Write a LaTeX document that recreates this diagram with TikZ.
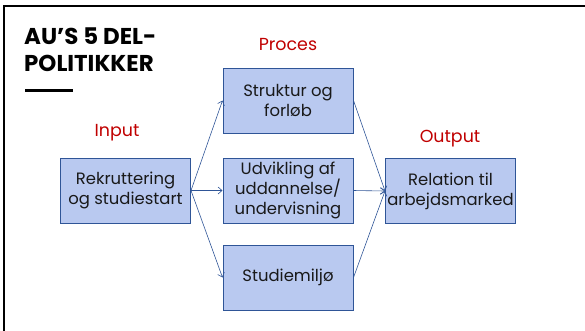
\documentclass[tikz,border=0pt]{standalone}
\usepackage{fontspec}
\setmainfont{Poppins}
\usetikzlibrary{arrows.meta}
\definecolor{boxfill}{RGB}{185,201,240}
\definecolor{boxline}{RGB}{47,85,151}
\definecolor{labred}{RGB}{192,0,0}
\tikzset{
  pbox/.style={draw=boxline, line width=1pt, fill=boxfill, minimum width=130bp, minimum height=65bp, inner sep=0pt, align=center, font=\fontsize{16.5}{20}\selectfont, text=black!90},
  plabel/.style={text=labred, font=\fontsize{17.5}{20}\selectfont, inner sep=0pt},
  conn/.style={draw=boxline, line width=0.6pt, -{Straight Barb[length=4bp,width=7bp]}}
}
\begin{document}
\begin{tikzpicture}[x=1bp,y=-1bp]
\useasboundingbox (0,0) rectangle (585,330);
% frame
\draw[line width=2.2bp, line cap=rect] (4,330) -- (4,6) -- (585,6);
% title
\node[anchor=north west, inner sep=0pt, align=left, font=\fontsize{23}{26.5}\selectfont\bfseries] (title) at (24,28) {AU’S 5 DEL-\\POLITIKKER};
\draw[line width=3bp] (25,90) -- (73,90);
% labels
\node[plabel] (lin) at (117,133) {Input};
\node[plabel] (lproc) at (288,44) {Proces};
\node[plabel] (lout) at (450,139) {Output};
% boxes
\node[pbox] (inp) at (125.5,190.5) {Rekruttering\\og studiestart};
\node[pbox] (str) at (288,100.5) {Struktur og\\forløb};
\node[pbox] (udv) at (288,190.5) {Udvikling af\\uddannelse/\\undervisning};
\node[pbox] (stu) at (288,277.5) {Studiemiljø};
\node[pbox] (rel) at (450.5,191) {Relation til\\arbejdsmarked};
% connectors
\draw[conn] (inp.east) -- (str.west);
\draw[conn] (inp.east) -- (udv.west);
\draw[conn] (inp.east) -- (stu.west);
\draw[conn] (str.east) -- (rel.west);
\draw[conn] (udv.east) -- (rel.west);
\draw[conn] (stu.east) -- (rel.west);
\end{tikzpicture}
\end{document}
